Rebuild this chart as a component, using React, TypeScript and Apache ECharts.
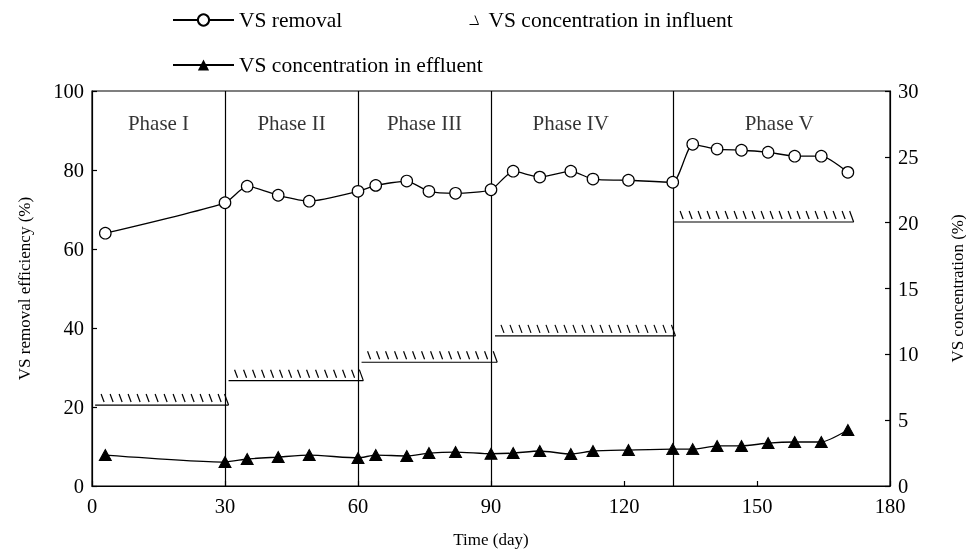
import React, { useEffect, useRef } from "react";
import * as echarts from "echarts";

const days = [3, 30, 35, 42, 49, 60, 64, 71, 76, 82, 90, 95, 101, 108, 113, 121, 131, 135.5, 141, 146.5, 152.5, 158.5, 164.5, 170.5];
const vsRemoval = [64.0, 71.7, 75.9, 73.6, 72.1, 74.6, 76.1, 77.2, 74.6, 74.1, 75.0, 79.7, 78.2, 79.7, 77.7, 77.4, 76.9, 86.5, 85.3, 85.0, 84.5, 83.5, 83.5, 79.4];
const vsEffluent = [2.35, 1.82, 2.05, 2.2, 2.35, 2.13, 2.35, 2.28, 2.5, 2.58, 2.45, 2.5, 2.66, 2.43, 2.66, 2.73, 2.8, 2.8, 3.04, 3.04, 3.26, 3.34, 3.34, 4.25];
// influent: [start day, end day, concentration]
const influentStart = [0.7, 30.8, 60.8, 90.9, 131.3];
const influentEnd = [30.8, 61.2, 91.4, 131.6, 171.8];
const influentValue = [6.15, 8.0, 9.4, 11.4, 20.05];
const phaseBoundaries = [30, 60, 90, 131];
const phaseNames = ["Phase I", "Phase II", "Phase III", "Phase IV", "Phase V"];
const phaseLabelX = [15, 45, 75, 108, 155];
const phaseLabelY = 92;
const xTicks = { min: 0, max: 180, interval: 30 };
const yLeftTicks = { min: 0, max: 100, interval: 20 };
const yRightTicks = { min: 0, max: 30, interval: 5 };

const FONT = "Liberation Serif";

export default function App() {
  const ref = useRef<HTMLDivElement>(null);
  useEffect(() => {
    if (!ref.current) return;
    const chart = echarts.init(ref.current, null, { renderer: "svg" });
    const axisCommon = {
      axisLine: { show: true, lineStyle: { color: "#000", width: 1.2 } },
      axisTick: { show: true, inside: true, length: 5, lineStyle: { color: "#000", width: 1.2 } },
      splitLine: { show: false },
      nameTextStyle: { color: "#000", fontSize: 17, fontFamily: FONT },
    };
    const labelStyle = { color: "#000", fontSize: 20.5, fontFamily: FONT };
    const legendText = { fontSize: 21.5, fontFamily: FONT, color: "#000" };
    const influentData = influentStart.map((s, i) => [s, influentEnd[i], influentValue[i]]);
    const option: any = {
      animation: false,
      textStyle: { fontFamily: FONT, color: "#000" },
      grid: {
        left: 92, right: 76, top: 91, bottom: 65, show: true,
        borderColor: "#000", borderWidth: 1.2, outerBoundsMode: "none", containLabel: false,
      },
      legend: [
        {
          left: 167, top: 4, itemWidth: 61, itemHeight: 14, selectedMode: false,
          textStyle: legendText,
          data: ["VS removal"],
        },
        {
          left: 464, top: 4, itemWidth: 9, itemHeight: 9, selectedMode: false,
          textStyle: { ...legendText, padding: [0, 0, 0, 5] },
          data: [{
            name: "VS concentration in influent",
            icon: "path://M0,10L10,10M6,0L10,10",
            itemStyle: { color: "rgba(0,0,0,0)", borderColor: "#000", borderWidth: 1 },
          }],
        },
        {
          left: 167, top: 49, itemWidth: 61, itemHeight: 14, selectedMode: false,
          textStyle: legendText,
          data: ["VS concentration in effluent"],
        },
      ],
      xAxis: {
        type: "value", ...xTicks, ...axisCommon,
        axisLabel: { ...labelStyle, margin: 9 },
        name: "Time (day)", nameLocation: "middle", nameGap: 45,
      },
      yAxis: [
        {
          type: "value", ...yLeftTicks, ...axisCommon,
          axisLabel: { ...labelStyle, margin: 8 },
          name: "VS removal efficiency (%)", nameLocation: "middle", nameGap: 59, nameRotate: 90,
        },
        {
          type: "value", position: "right", ...yRightTicks, ...axisCommon,
          axisLabel: { ...labelStyle, margin: 8 },
          name: "VS concentration (%)", nameLocation: "middle", nameGap: 59, nameRotate: 90,
        },
      ],
      series: [
        {
          name: "VS removal", type: "line", yAxisIndex: 0, smooth: 0.2,
          data: days.map((d, i) => [d, vsRemoval[i]]),
          symbol: "circle", symbolSize: 11.5,
          itemStyle: { color: "#fff", borderColor: "#000", borderWidth: 1.2 },
          lineStyle: { color: "#000", width: 1.3 },
          z: 5,
          markLine: {
            silent: true, symbol: "none", label: { show: false },
            lineStyle: { color: "#000", width: 1.2, type: "solid" },
            data: phaseBoundaries.map((b) => ({ xAxis: b })),
          },
        },
        {
          name: "VS concentration in effluent", type: "line", yAxisIndex: 1, smooth: 0.2,
          data: days.map((d, i) => [d, vsEffluent[i]]),
          symbol: "triangle", symbolSize: [12, 11],
          itemStyle: { color: "#000", borderColor: "#000" },
          lineStyle: { color: "#000", width: 1.3 },
          z: 5,
        },
        {
          name: "VS concentration in influent", type: "custom", yAxisIndex: 1,
          encode: { x: [0, 1], y: 2 },
          data: influentData,
          itemStyle: { color: "#000" },
          renderItem: (params: any, api: any) => {
            const p1 = api.coord([api.value(0), api.value(2)]);
            const p2 = api.coord([api.value(1), api.value(2)]);
            const y = p1[1];
            const style = { stroke: "#000", lineWidth: 1.2, fill: null };
            const children: any[] = [
              { type: "line", shape: { x1: p1[0], y1: y, x2: p2[0], y2: y }, style },
            ];
            for (let x = p1[0] + 6; x < p2[0] - 8; x += 9) {
              children.push({ type: "line", shape: { x1: x, y1: y - 11, x2: x + 3, y2: y - 3 }, style });
            }
            children.push({ type: "line", shape: { x1: p2[0] - 4, y1: y - 11, x2: p2[0], y2: y }, style });
            return { type: "group", children };
          },
        },
        {
          name: "phases", type: "scatter", yAxisIndex: 0, symbolSize: 1,
          itemStyle: { color: "rgba(0,0,0,0)" },
          silent: true,
          data: phaseNames.map((n, i) => ({ name: n, value: [phaseLabelX[i], phaseLabelY] })),
          label: { show: true, position: "inside", formatter: "{b}", fontSize: 21, fontFamily: FONT, color: "#000" },
        },
      ],
    };
    chart.setOption(option);
    return () => chart.dispose();
  }, []);
  return <div ref={ref} style={{ position: "fixed", left: 0, top: 0, width: 966, height: 551 }} />;
}
